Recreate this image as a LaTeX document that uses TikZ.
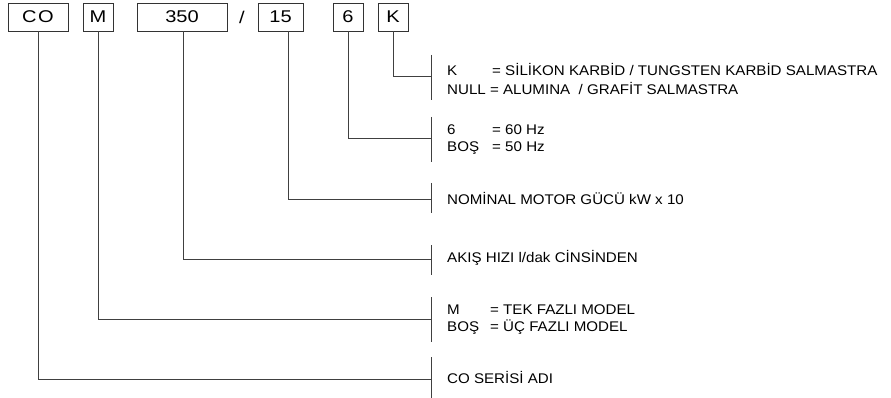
\documentclass[tikz,border=0pt]{standalone}
\usepackage{fontspec}
\setmainfont{Liberation Sans}
\newfontfamily\lblf[FakeStretch=1.08]{Liberation Sans}
\newfontfamily\boxf[FakeStretch=1.18]{Liberation Sans}
\begin{document}
\begin{tikzpicture}[x=1pt,y=-1pt,
  box/.style={draw=black!80,line width=0.9pt,minimum height=28pt,inner sep=0pt,font=\boxf\fontsize{17}{17}\selectfont},
  conn/.style={draw=black!75,line width=0.9pt},
  lbl/.style={anchor=west,inner sep=0pt,font=\lblf\fontsize{14}{14}\selectfont}]
\useasboundingbox (0,0) rectangle (891,398);
% code boxes
\node[box,minimum width=60pt] (bco) at (38,17) {C\kern1.5pt O};
\node[box,minimum width=30pt] (bm) at (98,17) {M};
\node[box,minimum width=90pt] (b350) at (182,17) {350};
\node[inner sep=0pt,font=\boxf\fontsize{17}{17}\selectfont] (sl) at (242,17) {/};
\node[box,minimum width=45pt] (b15) at (280.5,17) {15};
\node[box,minimum width=30pt] (b6) at (348,17) {6};
\node[box,minimum width=30pt] (bk) at (393,17) {K};
% bracket bars
\coordinate (ck) at (431,76);
\coordinate (c6) at (431,138);
\coordinate (c15) at (431,199);
\coordinate (c350) at (431,259);
\coordinate (cm) at (431,319);
\coordinate (cco) at (431,379);
\draw[conn] (431,55) -- (431,100);
\draw[conn] (431,117) -- (431,162);
\draw[conn] (431,183) -- (431,213);
\draw[conn] (431,245) -- (431,275);
\draw[conn] (431,297) -- (431,342);
\draw[conn] (431,357) -- (431,398);
% connectors
\draw[conn] (bk.south) |- (ck);
\draw[conn] (b6.south) |- (c6);
\draw[conn] ([xshift=7.5pt]b15.south) |- (c15);
\draw[conn] ([xshift=1pt]b350.south) |- (c350);
\draw[conn] (bm.south) |- (cm);
\draw[conn] (bco.south) |- (cco);
% labels
\node[lbl] (tk1) at (447,69) {\makebox[45pt][l]{K}= SİLİKON KARBİD / TUNGSTEN KARBİD SALMASTRA};
\node[lbl] (tk2) at (447,88) {NULL = ALUMINA \ / GRAFİT SALMASTRA};
\node[lbl] (t61) at (447,130) {\makebox[45pt][l]{6}= 60 Hz};
\node[lbl] (t62) at (447,148) {\makebox[45pt][l]{BOŞ}= 50 Hz};
\node[lbl] (t15) at (447,198) {NOMİNAL MOTOR GÜCÜ kW x 10};
\node[lbl] (t350) at (447,258) {AKIŞ HIZI l/dak CİNSİNDEN};
\node[lbl] (tm1) at (447,310) {\makebox[43pt][l]{M}= TEK FAZLI MODEL};
\node[lbl] (tm2) at (447,327) {\makebox[43pt][l]{BOŞ}= ÜÇ FAZLI MODEL};
\node[lbl] (tco) at (447,377) {CO SERİSİ ADI};
\end{tikzpicture}
\end{document}
